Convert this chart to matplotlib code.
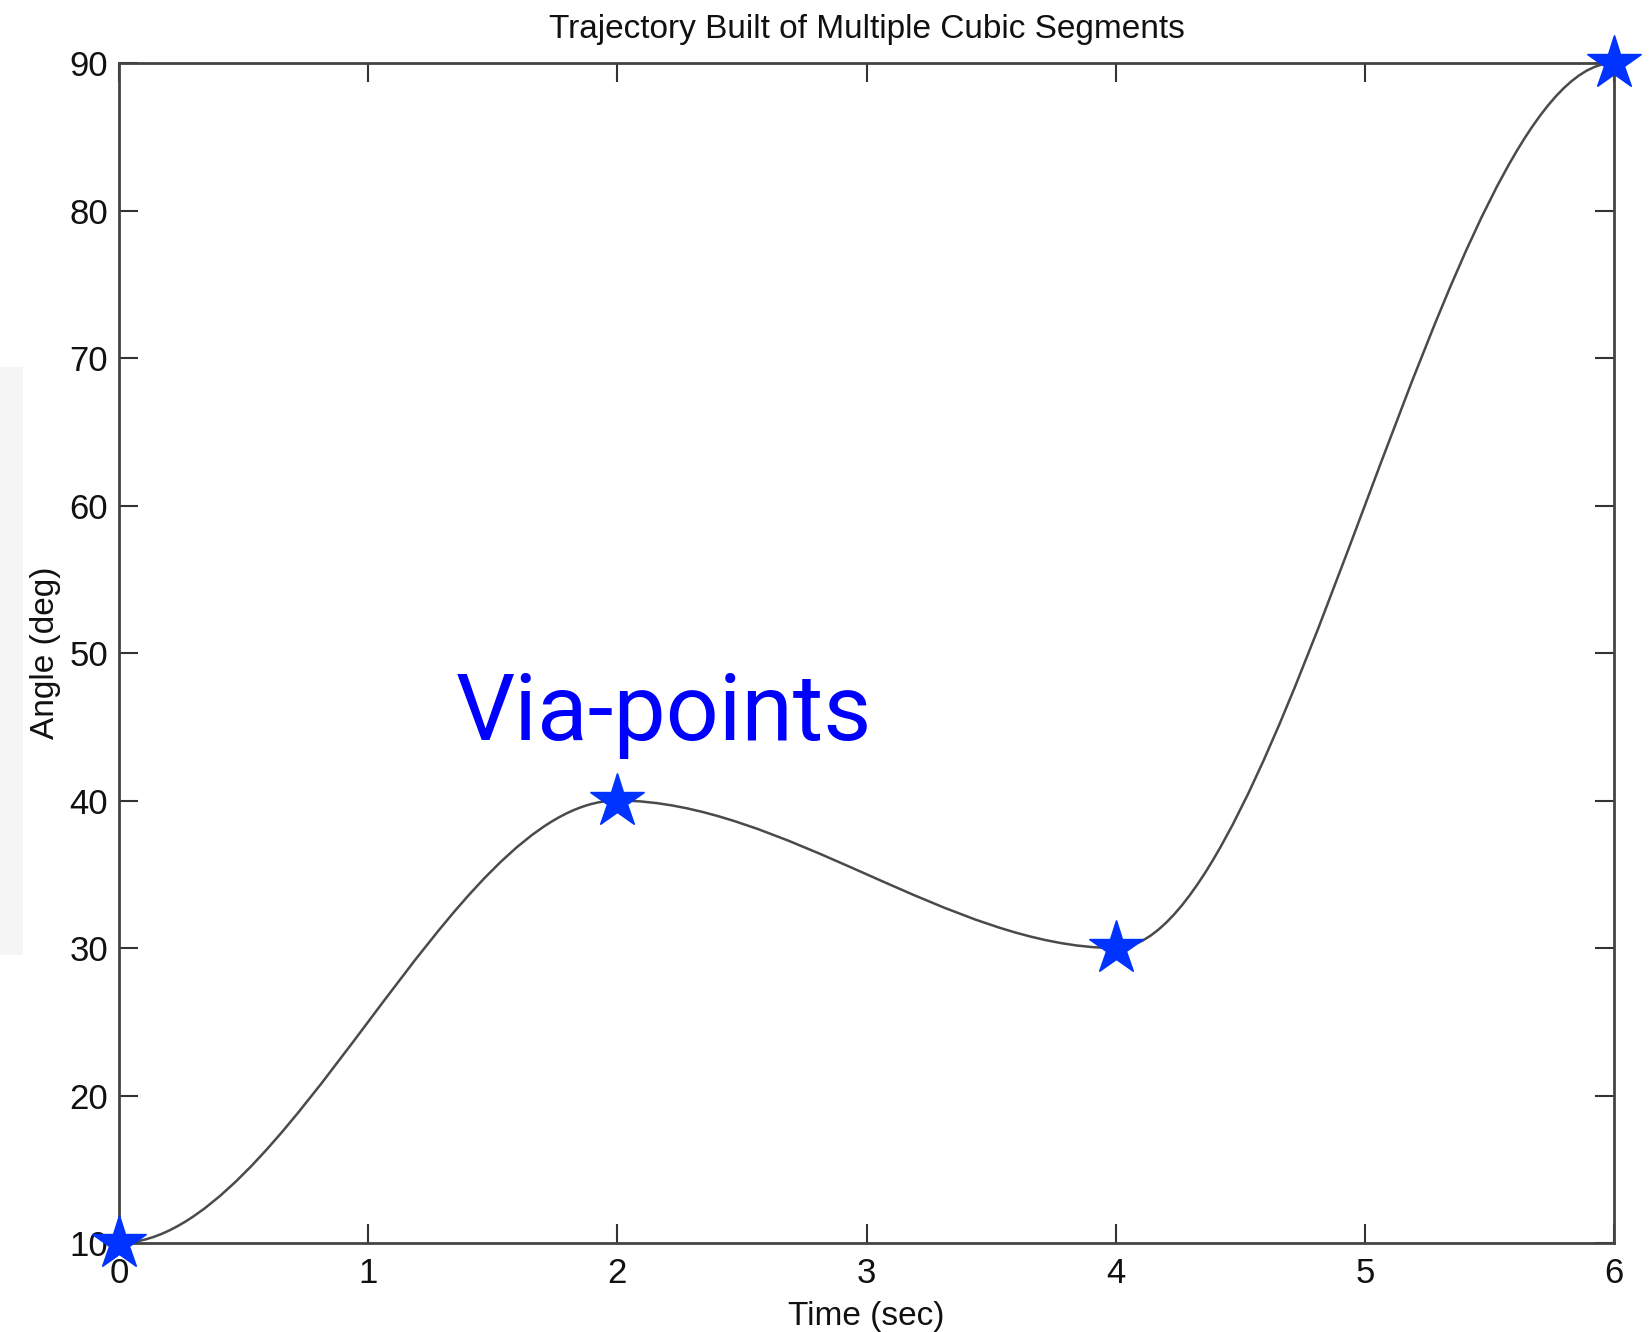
import matplotlib
matplotlib.use("Agg")
import matplotlib.pyplot as plt
from matplotlib.patches import Rectangle, PathPatch
from matplotlib.path import Path

# via points; each segment is a cubic with zero slope at both ends
via_t = [0, 2, 4, 6]
via_angle = [10, 40, 30, 90]

x_ticks = [0, 1, 2, 3, 4, 5, 6]
y_ticks = [10, 20, 30, 40, 50, 60, 70, 80, 90]

plt.rcParams['font.family'] = ['Liberation Sans', 'DejaVu Sans']

fig = plt.figure(figsize=(16.51, 13.32), dpi=100)
ax = fig.add_axes([0.0721, 0.0668, 0.9055, 0.8859])

# faint scan strip on the left edge
fig.patches.append(Rectangle((0, 0.283), 0.014, 0.4415, transform=fig.transFigure,
                             facecolor='#f5f5f5', edgecolor='none'))

# cubic segments as bezier curves (control points keep zero slope at via points)
verts = [(via_t[0], via_angle[0])]
codes = [Path.MOVETO]
for i in range(len(via_t) - 1):
    dt = via_t[i + 1] - via_t[i]
    verts += [(via_t[i] + dt / 3, via_angle[i]),
              (via_t[i + 1] - dt / 3, via_angle[i + 1]),
              (via_t[i + 1], via_angle[i + 1])]
    codes += [Path.CURVE4] * 3
ax.add_patch(PathPatch(Path(verts, codes), fill=False, edgecolor='#4a4a4a', linewidth=1.8))

ax.plot(via_t, via_angle, linestyle='none', marker='*', markersize=41,
        color='#0033ff', clip_on=False, zorder=5)

ax.text(1.35, 44.1, 'Via-points', color='#0000ff', fontsize=67,
        family=['Roboto', 'DejaVu Sans'], fontweight=350)

ax.set_xlim(0, 6)
ax.set_ylim(10, 90)
ax.set_xticks(x_ticks)
ax.set_yticks(y_ticks)
ax.tick_params(direction='in', length=14, width=1.5, colors='#333333', labelcolor='#111111',
               labelsize=25, top=True, right=True)
ax.tick_params(axis='y', pad=8)
ax.tick_params(axis='x', pad=10)
for s in ax.spines.values():
    s.set_linewidth(2)
    s.set_color('#444444')

ax.set_title('Trajectory Built of Multiple Cubic Segments', fontsize=24, pad=18, color='#111111')
ax.set_xlabel('Time (sec)', fontsize=24, labelpad=8, color='#111111')
ax.set_ylabel('Angle (deg)', fontsize=24, labelpad=6, color='#111111')

plt.savefig('out.png', dpi=100)
